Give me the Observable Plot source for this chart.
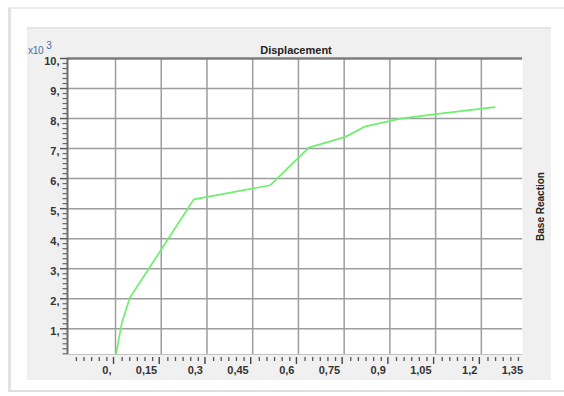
<!DOCTYPE html>
<html>
<head>
<meta charset="utf-8">
<script src="https://cdn.jsdelivr.net/npm/d3@7"></script>
<script src="https://cdn.jsdelivr.net/npm/@observablehq/plot@0.6"></script>
<style>
  html, body { margin: 0; padding: 0; background: #fff; }
  #page { position: relative; width: 564px; height: 396px; overflow: hidden; background: #fff; font-family: "Liberation Sans", Arial, sans-serif; }
  #outer { position: absolute; left: 8px; top: 7px; width: 600px; height: 385px; border-top: 2px solid #ebebeb; border-left: 3px solid #e2e2e2; border-bottom: 2px solid #dedede; box-sizing: border-box; }
  #panel { position: absolute; left: 27px; top: 27px; width: 524px; height: 353px; background: #f0f0f0; border-top: 2px solid #e6e6e6; box-sizing: border-box; }
  #mult { position: absolute; left: 1px; top: 12px; font-size: 10px; color: #3f6fae; white-space: nowrap; letter-spacing: -0.3px; }
  #mult sup { font-size: 10px; position: relative; top: -1px; margin-left: 3px; }
  #chart { position: absolute; left: 0; top: 0; }
</style>
</head>
<body>
<div id="page">
  <div id="outer"></div>
  <div id="panel"><span id="mult">x10<sup>3</sup></span></div>
  <div id="chart"></div>
</div>
<script>
// Displacement (x) vs Base Reaction (y)
const dispX = [0.002, 0.021, 0.047, 0.257, 0.508, 0.634, 0.754, 0.82, 0.935, 1.044, 1.244];
const baseReaction = [170, 1210, 2030, 5310, 5780, 7030, 7390, 7740, 8000, 8140, 8380];

const xTickValues = [0, 0.15, 0.3, 0.45, 0.6, 0.75, 0.9, 1.05, 1.2, 1.35];
const xTickLabels = ["0,", "0,15", "0,3", "0,45", "0,6", "0,75", "0,9", "1,05", "1,2", "1,35"];
const yTickValues = [1000, 2000, 3000, 4000, 5000, 6000, 7000, 8000, 9000, 10000];
const yTickLabels = ["1,", "2,", "3,", "4,", "5,", "6,", "7,", "8,", "9,", "10,"];

const xDomain = [-0.1575, 1.335];
const yDomain = [143, 10000];

const points = dispX.map((x, i) => ({x, y: baseReaction[i]}));

function notMajor(d, step) { return Math.abs(Math.round(d / step) * step - d) > 1e-6; }
const xMajorIn = xTickValues.filter(d => d <= xDomain[1]);
const xMinor = d3.range(-6, 54).map(k => k * 0.025).filter(d => d >= xDomain[0] && d <= xDomain[1] && notMajor(d, 0.15));
const yMinor = d3.range(1, 60).map(k => k * 1000 / 6).filter(d => d >= yDomain[0] && d <= yDomain[1] && notMajor(d, 1000));

const font = "Liberation Sans, Arial, sans-serif";

const chart = Plot.plot({
  width: 564,
  height: 396,
  marginLeft: 67,
  marginRight: 42,
  marginTop: 58,
  marginBottom: 42,
  style: {background: "transparent", overflow: "visible", fontFamily: font},
  x: {domain: xDomain},
  y: {domain: yDomain},
  marks: [
    Plot.frame({fill: "white", stroke: null}),
    Plot.ruleX(xMajorIn, {stroke: "#9d9d9d", strokeWidth: 1.5}),
    Plot.ruleY(yTickValues.filter(d => d < 10000), {stroke: "#9d9d9d", strokeWidth: 1.5}),
    Plot.ruleY([yDomain[1]], {stroke: "#7c7c7c", strokeWidth: 2.5}),
    Plot.ruleY([yDomain[0]], {stroke: "#c4c4c4", strokeWidth: 1}),
    Plot.ruleX([xDomain[0]], {stroke: "#6e6e6e", strokeWidth: 2}),
    Plot.line(points, {x: "x", y: "y", stroke: "#6ef06e", strokeWidth: 1.7}),
    // x axis ticks
    Plot.axisX(xMajorIn, {tickSize: 7, dy: 3, dx: -2, text: null, label: null, stroke: "#444", strokeWidth: 1.4}),
    Plot.axisX(xMinor, {tickSize: 4, dy: 3, dx: -1, text: null, label: null, stroke: "#555", strokeWidth: 1.3}),
    Plot.axisX(xTickValues, {
      tickSize: 0, tickPadding: 12, dx: -4, textAnchor: "end", label: null,
      tickFormat: d => xTickLabels[xTickValues.indexOf(d)],
      fontSize: 11, fontWeight: "bold", fill: "#333", fontFamily: font
    }),
    // y axis ticks
    Plot.axisY(yTickValues, {tickSize: 7, text: null, label: null, stroke: "#555", strokeWidth: 1.4}),
    Plot.axisY(yMinor, {tickSize: 4.5, text: null, label: null, stroke: "#666", strokeWidth: 1.2}),
    Plot.axisY(yTickValues, {
      tickSize: 0, tickPadding: 8, dy: 3, textAnchor: "end", label: null,
      tickFormat: d => yTickLabels[yTickValues.indexOf(d)],
      fontSize: 11, fontWeight: "bold", fill: "#333", fontFamily: font
    }),
    Plot.text(["Displacement"], {text: d => d, frameAnchor: "top", dy: -12, dx: 1, fontSize: 11, fontWeight: "bold", fill: "#222", fontFamily: font}),
    Plot.text(["Base Reaction"], {text: d => d, frameAnchor: "right", dx: 18, rotate: -90, textAnchor: "middle", fontSize: 10, fontWeight: "bold", fill: "#222", fontFamily: font})
  ]
});
document.getElementById("chart").appendChild(chart);
</script>
</body>
</html>
